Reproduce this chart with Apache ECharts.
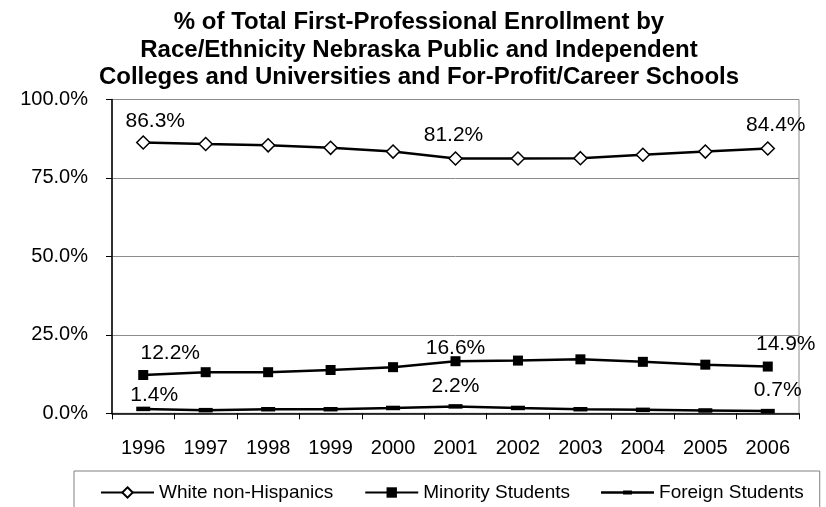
<!DOCTYPE html>
<html>
<head>
<meta charset="utf-8">
<script src="https://cdn.jsdelivr.net/npm/echarts@6/dist/echarts.min.js"></script>
<style>
html,body{margin:0;padding:0;background:#fff;}
#c{width:826px;height:507px;}
</style>
</head>
<body>
<div id="c"></div>
<script>
var years = ['1996','1997','1998','1999','2000','2001','2002','2003','2004','2005','2006'];
var white = [86.3, 85.8, 85.4, 84.6, 83.4, 81.2, 81.2, 81.3, 82.4, 83.4, 84.4];
var minority = [12.2, 13.1, 13.1, 13.8, 14.7, 16.6, 16.8, 17.2, 16.4, 15.5, 14.9];
var foreign = [1.4, 1.0, 1.3, 1.3, 1.7, 2.2, 1.7, 1.3, 1.1, 0.9, 0.7];
var yTicks = [0, 25, 50, 75, 100];
var labelIdx = [0, 5, 10];
var seriesNames = ['White non-Hispanics', 'Minority Students', 'Foreign Students'];

var FONT = '"Liberation Sans", Arial, sans-serif';

// label offsets (dx, dy) relative to point centre, per labelled index
var whiteOff = {0: [12, -21], 5: [-2, -23], 10: [8, -23]};
var minOff = {0: [27, -22], 5: [0, -13], 10: [18, -22]};
var forOff = {0: [11, -14], 5: [0, -20], 10: [10, -21]};

function build(values, offs) {
  return values.map(function (v, i) {
    if (labelIdx.indexOf(i) >= 0) {
      return {
        value: v,
        label: {
          show: true,
          position: 'inside',
          align: 'center',
          verticalAlign: 'middle',
          offset: offs[i],
          formatter: function (p) { return p.value.toFixed(1) + '%'; },
          color: '#000',
          fontFamily: FONT,
          fontSize: 21
        }
      };
    }
    return v;
  });
}

var chart = echarts.init(document.getElementById('c'), null, {renderer: 'canvas'});
chart.setOption({
  animation: false,
  backgroundColor: '#fff',
  title: {
    text: '% of Total First-Professional Enrollment by\nRace/Ethnicity Nebraska Public and Independent\nColleges and Universities and For-Profit/Career Schools',
    left: 414,
    textAlign: 'center',
    top: 4,
    textStyle: {
      fontFamily: FONT,
      fontWeight: 'bold',
      fontSize: 24,
      lineHeight: 27.5,
      color: '#000'
    }
  },
  legend: {
    data: [
      {name: seriesNames[0]},
      {name: seriesNames[1]},
      {name: seriesNames[2], icon: 'path://M0,5.2 L53,5.2 L53,7.8 L0,7.8 Z M22,4.6 L31,4.6 L31,8.4 L22,8.4 Z'}
    ],
    left: 74,
    top: 471,
    orient: 'horizontal',
    itemWidth: 53,
    itemHeight: 13,
    itemGap: 31,
    padding: [12, 16, 12, 26],
    borderColor: '#808080',
    borderWidth: 1,
    textStyle: {fontFamily: FONT, fontSize: 19, color: '#000'}
  },
  grid: {
    left: 112,
    right: 27,
    top: 99.5,
    bottom: 93.7,
    show: true,
    borderColor: '#8c8c8c',
    borderWidth: 1,
    containLabel: false
  },
  xAxis: {
    type: 'category',
    data: years,
    boundaryGap: true,
    axisLine: {show: true, lineStyle: {color: '#000', width: 1.5}},
    axisTick: {show: true, alignWithLabel: false, length: 6, lineStyle: {color: '#000', width: 1}},
    axisLabel: {margin: 25, fontFamily: FONT, fontSize: 20, color: '#000'},
    splitLine: {show: false}
  },
  yAxis: {
    type: 'value',
    min: 0,
    max: 100,
    interval: 25,
    axisLine: {show: true, lineStyle: {color: '#000', width: 1.5}},
    axisTick: {show: true, length: 6, lineStyle: {color: '#000', width: 1}},
    axisLabel: {
      margin: 24,
      fontFamily: FONT,
      fontSize: 20,
      color: '#000',
      formatter: function (v) { return yTicks.indexOf(v) >= 0 ? v.toFixed(1) + '%' : ''; }
    },
    splitLine: {show: true, lineStyle: {color: '#8c8c8c', width: 1}}
  },
  series: [
    {
      name: seriesNames[0],
      type: 'line',
      data: build(white, whiteOff),
      symbol: 'diamond',
      symbolSize: [13, 13],
      showAllSymbol: true,
      lineStyle: {color: '#000', width: 2.5},
      itemStyle: {color: '#fff', borderColor: '#000', borderWidth: 1.5},
      z: 3
    },
    {
      name: seriesNames[1],
      type: 'line',
      data: build(minority, minOff),
      symbol: 'rect',
      symbolSize: [10, 10],
      showAllSymbol: true,
      lineStyle: {color: '#000', width: 2.5},
      itemStyle: {color: '#000', borderColor: '#000', borderWidth: 0},
      z: 3
    },
    {
      name: seriesNames[2],
      type: 'line',
      data: build(foreign, forOff),
      symbol: 'rect',
      symbolSize: [14, 4.5],
      showAllSymbol: true,
      lineStyle: {color: '#000', width: 2.5},
      itemStyle: {color: '#000', borderColor: '#000', borderWidth: 0},
      z: 3
    }
  ]
});
</script>
</body>
</html>
